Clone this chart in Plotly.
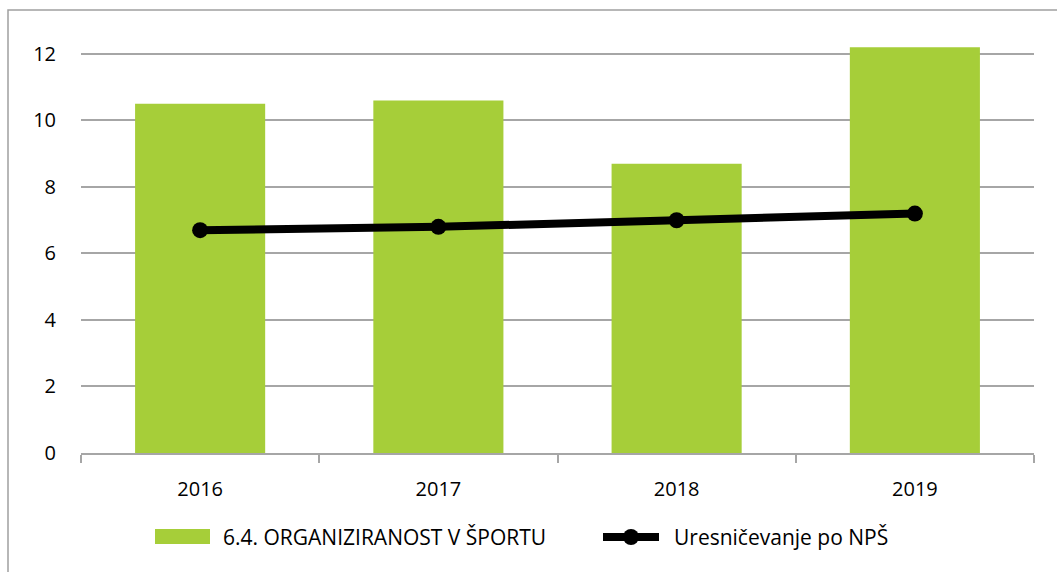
import plotly.graph_objects as go

# Data
years = ["2016", "2017", "2018", "2019"]
organiziranost = [10.5, 10.6, 8.7, 12.2]
uresnicevanje = [6.7, 6.8, 7.0, 7.2]
y_ticks = [0, 2, 4, 6, 8, 10, 12]

bar_name = "6.4. ORGANIZIRANOST V ŠPORTU"
line_name = "Uresničevanje po NPŠ"

GREEN = "#A6CE39"
GRID = "#A6A6A6"
FONT = "Open Sans"

W, H = 1057, 572
M_L, M_R, M_T, M_B = 81, 23, 34, 119
plot_w = W - M_L - M_R
plot_h = H - M_T - M_B


def px_x(px):
    return (px - M_L) / plot_w


def px_y(py):
    return (H - M_B - py) / plot_h


fig = go.Figure()
fig.add_trace(go.Bar(
    x=years, y=organiziranost, name=bar_name,
    marker=dict(color=GREEN, line=dict(width=0)),
    width=0.546, showlegend=False,
))
fig.add_trace(go.Scatter(
    x=years, y=uresnicevanje, name=line_name, mode="lines+markers",
    line=dict(color="#000000", width=8),
    marker=dict(color="#000000", size=16),
    showlegend=False,
))

shapes = []
# outer frame
shapes.append(dict(type="rect", xref="paper", yref="paper",
                   x0=px_x(8), x1=px_x(1070), y0=px_y(590), y1=px_y(10),
                   line=dict(color="#A0A0A0", width=1.5), fillcolor="rgba(0,0,0,0)",
                   layer="below"))
# legend: bar swatch
shapes.append(dict(type="rect", xref="paper", yref="paper",
                   x0=px_x(155), x1=px_x(210), y0=px_y(544), y1=px_y(529),
                   line=dict(width=0), fillcolor=GREEN))
# legend: line swatch
shapes.append(dict(type="line", xref="paper", yref="paper",
                   x0=px_x(603), x1=px_x(659), y0=px_y(537), y1=px_y(537),
                   line=dict(color="#000000", width=8)))
shapes.append(dict(type="circle", xref="paper", yref="paper",
                   x0=px_x(623), x1=px_x(639), y0=px_y(545), y1=px_y(529),
                   line=dict(width=0), fillcolor="#000000"))

annotations = [
    dict(text=bar_name, xref="paper", yref="paper", x=px_x(221), y=px_y(537),
         xanchor="left", yanchor="middle", showarrow=False,
         font=dict(family=FONT, size=21, color="#000000")),
    dict(text=line_name, xref="paper", yref="paper", x=px_x(672), y=px_y(537),
         xanchor="left", yanchor="middle", showarrow=False,
         font=dict(family=FONT, size=21, color="#000000")),
]

fig.update_layout(
    width=W, height=H,
    margin=dict(l=M_L, r=M_R, t=M_T, b=M_B),
    paper_bgcolor="white", plot_bgcolor="white",
    font=dict(family=FONT, size=20, color="#000000"),
    shapes=shapes, annotations=annotations,
    bargap=0.454,
)
fig.update_xaxes(
    type="category", showgrid=False,
    showline=True, linecolor=GRID, linewidth=1.5,
    ticks="outside", tickson="boundaries", ticklen=8, tickcolor=GRID, tickwidth=1.5,
    ticklabelstandoff=17,
    tickfont=dict(family=FONT, size=20, color="#000000"),
)
fig.update_yaxes(
    range=[0, 12.6], tickvals=y_ticks,
    showgrid=True, gridcolor=GRID, gridwidth=1.5,
    zeroline=False, showline=False, ticks="",
    ticklabelstandoff=24,
    tickfont=dict(family=FONT, size=20, color="#000000"),
)

fig.write_html("out.html")
